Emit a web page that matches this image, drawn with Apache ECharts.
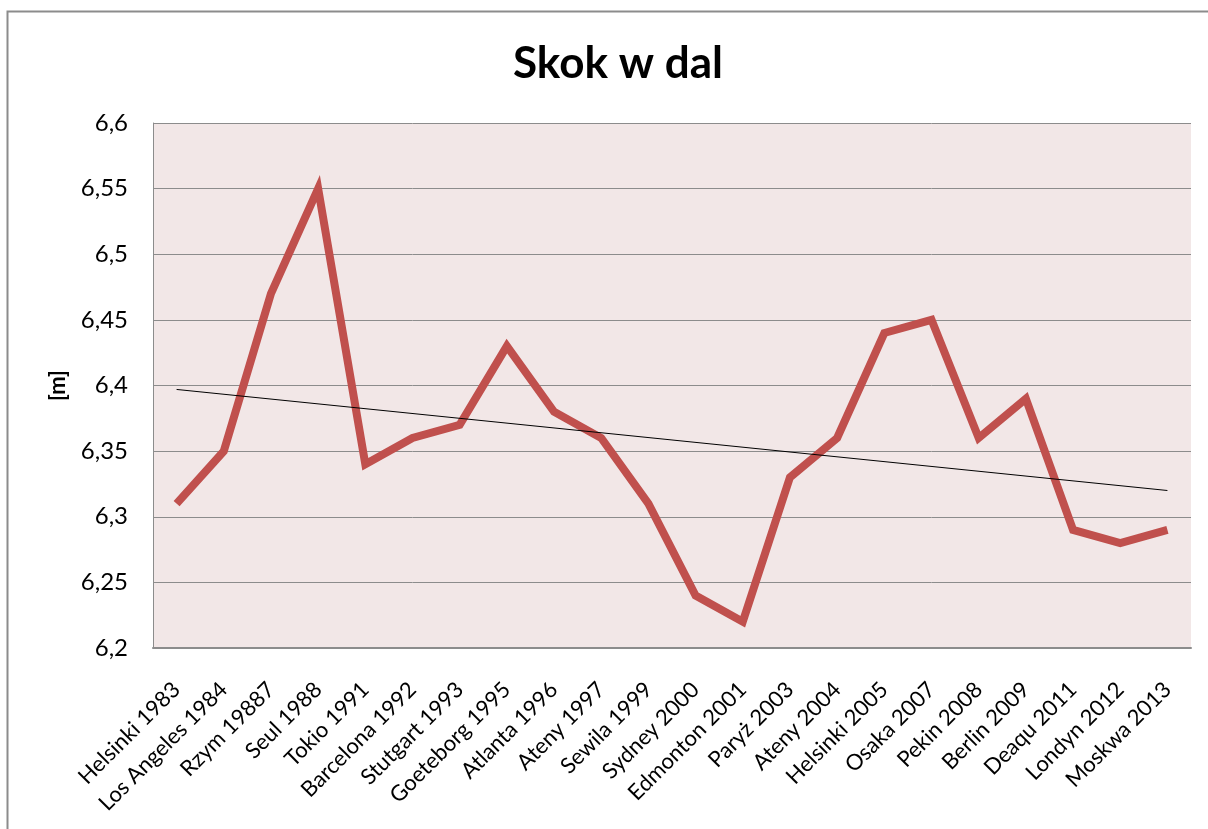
<!DOCTYPE html>
<html>
<head>
<meta charset="utf-8">
<script src="https://cdn.jsdelivr.net/npm/echarts@6/dist/echarts.min.js"></script>
<style>
  html, body { margin: 0; padding: 0; background: #fff; }
  #chart { width: 1208px; height: 829px; }
</style>
</head>
<body>
<div id="chart"></div>
<script>
  var categories = [
    'Helsinki 1983', 'Los Angeles 1984', 'Rzym 19887', 'Seul 1988', 'Tokio 1991',
    'Barcelona 1992', 'Stutgart 1993', 'Goeteborg 1995', 'Atlanta 1996', 'Ateny 1997',
    'Sewila 1999', 'Sydney 2000', 'Edmonton 2001', 'Paryż 2003', 'Ateny 2004',
    'Helsinki 2005', 'Osaka 2007', 'Pekin 2008', 'Berlin 2009', 'Deaqu 2011',
    'Londyn 2012', 'Moskwa 2013'
  ];
  var values = [
    6.31, 6.35, 6.47, 6.55, 6.34,
    6.36, 6.37, 6.43, 6.38, 6.36,
    6.31, 6.24, 6.22, 6.33, 6.36,
    6.44, 6.45, 6.36, 6.39, 6.29,
    6.28, 6.29
  ];
  // trend line end points
  var trendPoints = [[0, 6.397], [21, 6.32]];

  var chart = echarts.init(document.getElementById('chart'));
  var font = 'Lato, "Open Sans", sans-serif';

  chart.setOption({
    animation: false,
    textStyle: { fontFamily: font },
    title: {
      text: 'Skok w dal',
      left: 508,
      top: 37,
      textStyle: { fontSize: 44, fontWeight: 'bold', color: '#000', fontFamily: font }
    },
    graphic: [
      {
        type: 'rect',
        shape: { x: 7.5, y: 11.5, width: 1400, height: 1000 },
        style: { fill: 'none', stroke: '#8c8c8c', lineWidth: 2 },
        silent: true
      }
    ],
    grid: {
      left: 153,
      right: 17,
      top: 123,
      bottom: 181,
      show: true,
      backgroundColor: '#F2E7E7',
      borderWidth: 0
    },
    xAxis: {
      type: 'category',
      data: categories,
      boundaryGap: true,
      axisLine: { lineStyle: { color: '#8c8c8c', width: 2 } },
      axisTick: { show: false },
      axisLabel: {
        rotate: 45,
        interval: 0,
        fontSize: 22,
        color: '#000',
        margin: 38,
        fontFamily: font
      }
    },
    yAxis: {
      type: 'value',
      min: 6.2,
      max: 6.6,
      interval: 0.05,
      name: '[m]',
      nameLocation: 'middle',
      nameRotate: 90,
      nameGap: 84,
      nameTextStyle: { fontSize: 22, fontWeight: 'bold', color: '#000', fontFamily: font },
      axisLine: { show: true, lineStyle: { color: '#8c8c8c', width: 1 } },
      axisTick: { show: false },
      axisLabel: {
        fontSize: 24,
        color: '#000',
        margin: 25,
        fontFamily: font,
        formatter: function (v) {
          return String(Math.round(v * 100) / 100).replace('.', ',');
        }
      },
      splitLine: { lineStyle: { color: '#8c8c8c', width: 1 } }
    },
    series: [
      {
        type: 'line',
        data: values,
        symbol: 'none',
        lineStyle: { color: '#C0504D', width: 8, join: 'miter' },
        z: 3
      },
      {
        type: 'line',
        data: trendPoints,
        symbol: 'none',
        lineStyle: { color: '#000', width: 1 },
        z: 4
      }
    ]
  });
</script>
</body>
</html>
